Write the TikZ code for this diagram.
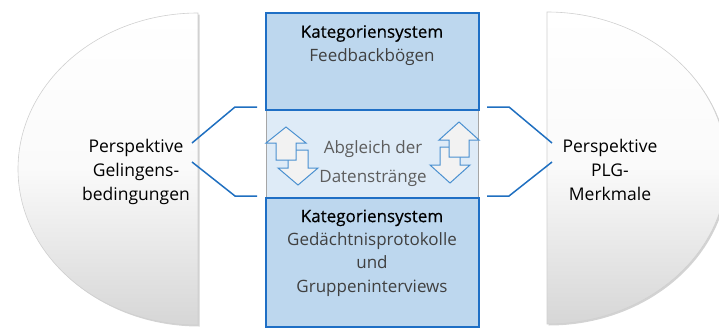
\documentclass[tikz,border=0pt]{standalone}
\usepackage{fontspec}
\setmainfont{Open Sans}
\newfontfamily\semib[FakeBold=0.5]{Open Sans}
\usetikzlibrary{shadows}
\definecolor{boxfill}{HTML}{BDD7EE}
\definecolor{boxline}{HTML}{1F6FC5}
\definecolor{bandfill}{HTML}{DEEBF7}
\definecolor{bandline}{HTML}{A6A6A6}
\definecolor{connc}{HTML}{1F6FC0}
\definecolor{arrline}{HTML}{4A90D0}
\definecolor{arrfill}{HTML}{F2F2F2}
\definecolor{txtgray}{HTML}{404040}
\definecolor{discedge}{HTML}{D0D0D0}
\tikzset{
  disc/.style={draw=discedge, line width=0.6pt, top color=white, bottom color=black!16, middle color=black!2,
    drop shadow={shadow xshift=1.5pt, shadow yshift=-1.5pt, opacity=0.35}},
  catbox/.style={draw=boxline, line width=1.6pt, fill=boxfill, inner sep=0pt, anchor=north west},
  band/.style={draw=bandline, line width=0.6pt, fill=bandfill, inner sep=0pt, anchor=north west},
  boxtxt/.style={align=center, inner sep=0pt, anchor=base, font=\fontsize{17}{23.3}\selectfont},
  disctxt/.style={align=center, inner sep=0pt, anchor=base, font=\fontsize{17.5}{24}\selectfont},
  midtxt/.style={align=center, inner sep=0pt, anchor=base, text=txtgray!85, font=\fontsize{17}{29}\selectfont},
  connline/.style={draw=connc, line width=1.5pt},
  bigarrow/.style={draw=arrline, line width=1pt, fill=arrfill, line join=miter}
}
\begin{document}
\begin{tikzpicture}[x=1pt,y=-1pt]
\useasboundingbox (0,0) rectangle (719,327);
\clip (0,0) rectangle (719,327);

% half discs (drawn with upward y so that the shading runs top to bottom on the page)
\begin{scope}[y=1pt]
\path[disc] (198,-13) arc[start angle=90, end angle=270, x radius=180, y radius=156] -- cycle;
\path[disc] (547,-12) arc[start angle=90, end angle=-90, x radius=180, y radius=156] -- cycle;
\end{scope}

% central column
\node[band, minimum width=212pt, minimum height=88pt] (bandn) at (266,109) {};
\node[catbox, minimum width=213pt, minimum height=97pt] (topbox) at (265,12) {};
\node[catbox, minimum width=213pt, minimum height=129pt] (botbox) at (265,197) {};

% texts (base anchor = baseline of last line)
\node[boxtxt] (toptxt) at (372,61) {{\semib Kategoriensystem}\\\textcolor{txtgray}{Feedbackbögen}};
\node[boxtxt] (bottxt) at (372,292) {{\semib Kategoriensystem}\\\textcolor{txtgray}{Gedächtnisprotokolle}\\\textcolor{txtgray}{und}\\\textcolor{txtgray}{Gruppeninterviews}};
\node[midtxt] (midt) at (373,182) {Abgleich der\\Datenstränge};
\node[disctxt] (lt) at (136,200) {Perspektive\\Gelingens-\\bedingungen};
\node[disctxt] (rt) at (610,200) {Perspektive\\PLG-\\Merkmale};

% connectors
\coordinate (la) at (192,143); \coordinate (lb) at (235,107); \coordinate (lc) at (257,107);
\coordinate (ld) at (192,162); \coordinate (le) at (235,196); \coordinate (lf) at (257,196);
\coordinate (ra) at (552,143); \coordinate (rb) at (509,107); \coordinate (rc) at (487,107);
\coordinate (rd) at (552,162); \coordinate (re) at (509,196); \coordinate (rf) at (487,196);
\draw[connline] (la) -- (lb) -- (lc);
\draw[connline] (ld) -- (le) -- (lf);
\draw[connline] (ra) -- (rb) -- (rc);
\draw[connline] (rd) -- (re) -- (rf);

% left arrow pair
\path[bigarrow] (288,150) -- (308,150) -- (308,168) -- (318,168) -- (298,185) -- (278,168) -- (288,168) -- cycle;
\path[bigarrow] (286,127) -- (306,143) -- (296,143) -- (296,160) -- (276,160) -- (276,143) -- (266,143) -- cycle;
% right arrow pair
\path[bigarrow] (440,147) -- (460,147) -- (460,165) -- (470,165) -- (450,183) -- (430,165) -- (440,165) -- cycle;
\path[bigarrow] (459,122) -- (479,140) -- (469,140) -- (469,157) -- (449,157) -- (449,140) -- (439,140) -- cycle;
\end{tikzpicture}
\end{document}
